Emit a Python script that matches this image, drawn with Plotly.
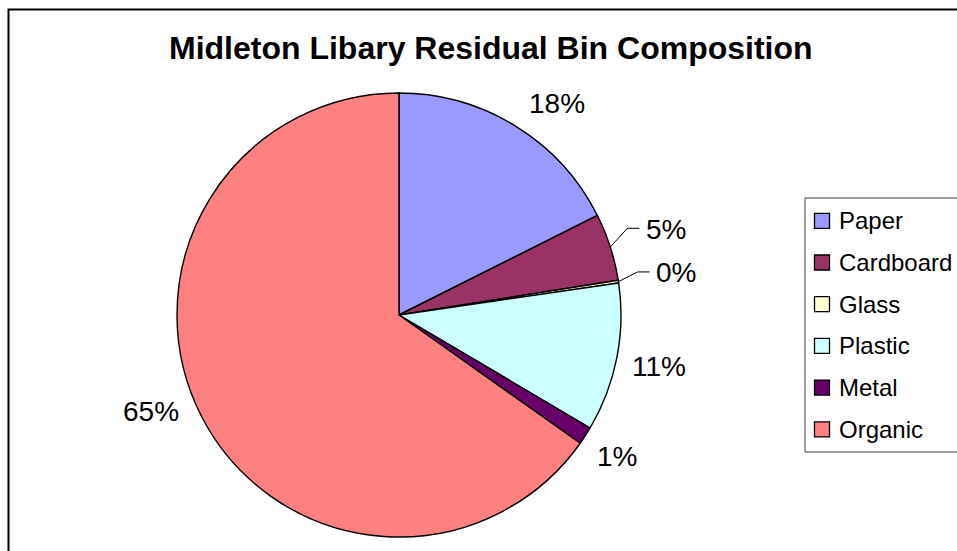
import math
import plotly.graph_objects as go

# ---------------- data ----------------
categories = ["Paper", "Cardboard", "Glass", "Plastic", "Metal", "Organic"]
values = [17.6, 4.9, 0.2, 10.8, 1.3, 65.2]
title_text = "Midleton Libary Residual Bin Composition"

# ---------------- style ----------------
colors = ["#9999FF", "#993366", "#FFFFCC", "#CCFFFF", "#660066", "#FF8080"]
use_leader = [False, True, True, False, False, False]
label_nudge_deg = [5, 0, 0, 0, 0, 6]
FONT = "Liberation Sans, Arial, sans-serif"
W, H = 957, 551
CX, CY, R = 399, 315, 222
LABEL_FS = 28
LEGEND_FS = 24
TITLE_FS = 32
GAP = 12
LEADER_R = 58


def px(x):
    return x / W


def py(y):
    return 1 - y / H


def text_width(s, fs):
    w = 0.0
    for ch in s:
        w += 0.889 if ch == "%" else 0.556
    return w * fs


fig = go.Figure(
    go.Pie(
        labels=categories,
        values=values,
        sort=False,
        direction="clockwise",
        rotation=0,
        textinfo="none",
        hoverinfo="label+percent",
        showlegend=False,
        marker=dict(colors=colors, line=dict(color="black", width=1.4)),
        domain=dict(x=[px(CX - R), px(CX + R)], y=[py(CY + R), py(CY - R)]),
    )
)

annotations = []
shapes = []

# outer chart-area frame (extends past right/bottom edges)
shapes.append(dict(type="rect", xref="paper", yref="paper",
                   x0=px(8.5), x1=px(W + 20), y0=py(H + 20), y1=py(9.5),
                   line=dict(color="black", width=2), fillcolor="rgba(0,0,0,0)"))

# data labels computed from slice angles
total = sum(values)
cum = 0.0
for i, v in enumerate(values):
    frac = v / total
    mid = (cum + frac / 2) * 2 * math.pi
    cum += frac
    txt = f"{round(frac * 100)}%"
    hw = text_width(txt, LABEL_FS) / 2
    hh = 0.6 * LABEL_FS
    if use_leader[i]:
        s, c = math.sin(mid), math.cos(mid)
        r = R + LEADER_R
        lx, ly = CX + r * s, CY - r * c
        left = lx - hw
        ex, ey = CX + R * s, CY - R * c
        path = f"M {px(ex)},{py(ey)} L {px(left - 18)},{py(ly - 1)} L {px(left - 6)},{py(ly - 1)}"
        shapes.append(dict(type="path", xref="paper", yref="paper", path=path,
                           line=dict(color="black", width=1)))
    else:
        a = mid + math.radians(label_nudge_deg[i])
        s, c = math.sin(a), math.cos(a)
        r = R + GAP + abs(s) * hw + abs(c) * hh
        lx, ly = CX + r * s, CY - r * c
    annotations.append(dict(x=px(lx), y=py(ly), xref="paper", yref="paper",
                            text=txt, showarrow=False, xanchor="center", yanchor="middle",
                            font=dict(family=FONT, size=LABEL_FS, color="black")))

# legend drawn manually
LEG_LEFT, LEG_TOP, LEG_BOTTOM = 805, 198, 452
ITEM0, STEP = 220.8, 41.7
shapes.append(dict(type="rect", xref="paper", yref="paper",
                   x0=px(LEG_LEFT), x1=px(W + 20), y0=py(LEG_BOTTOM), y1=py(LEG_TOP),
                   line=dict(color="#404040", width=1), fillcolor="white", layer="below"))
for i, name in enumerate(categories):
    yc = ITEM0 + i * STEP
    shapes.append(dict(type="rect", xref="paper", yref="paper",
                       x0=px(814.5), x1=px(829.5), y0=py(yc + 7.5), y1=py(yc - 7.5),
                       line=dict(color="black", width=1.3), fillcolor=colors[i]))
    annotations.append(dict(x=px(837), y=py(yc), xref="paper", yref="paper",
                            text=name, showarrow=False, xanchor="left", yanchor="middle",
                            font=dict(family=FONT, size=LEGEND_FS, color="black")))

# title
annotations.append(dict(x=px(491), y=py(48.5), xref="paper", yref="paper",
                        text=f"<b>{title_text}</b>", showarrow=False,
                        xanchor="center", yanchor="middle",
                        font=dict(family=FONT, size=TITLE_FS, color="black")))

fig.update_layout(
    width=W, height=H, autosize=False,
    margin=dict(l=0, r=0, t=0, b=0),
    paper_bgcolor="white", plot_bgcolor="white",
    annotations=annotations, shapes=shapes,
    showlegend=False,
)

fig.write_html("out.html")
